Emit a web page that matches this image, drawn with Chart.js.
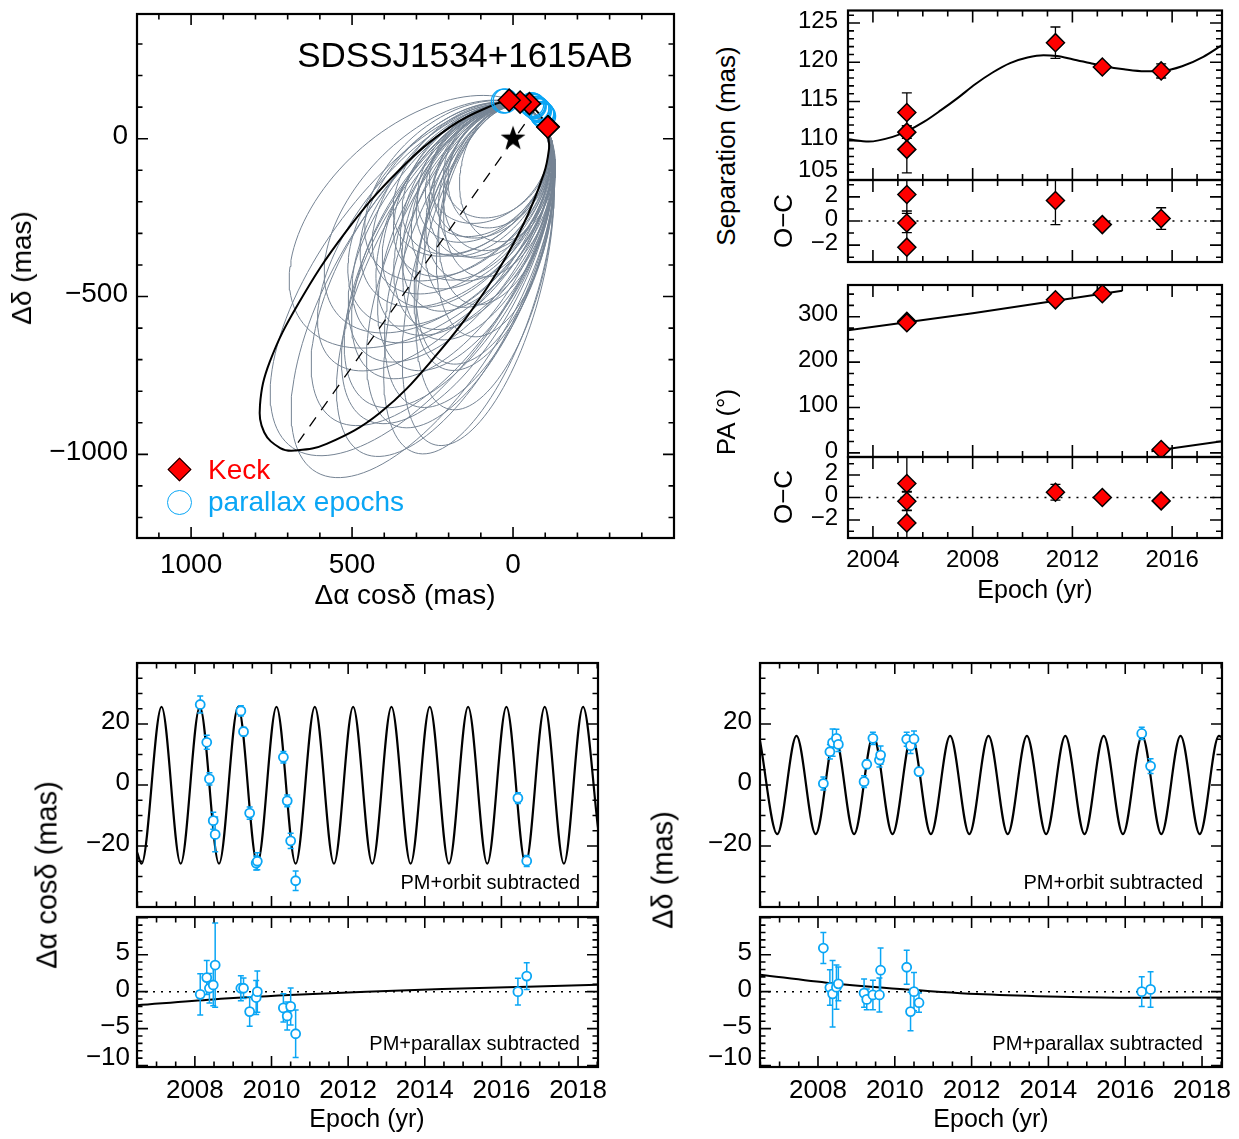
<!DOCTYPE html>
<html>
<head>
<meta charset="utf-8">
<title>SDSSJ1534+1615AB orbit</title>
<script src="https://cdn.jsdelivr.net/npm/chart.js@4.4.1/dist/chart.umd.min.js"></script>
<style>
html, body { margin:0; padding:0; background:#fff; }
body { width:1239px; height:1139px; position:relative; overflow:hidden; font-family:"Liberation Sans", Arial, Helvetica, sans-serif; }
canvas { position:absolute; }
.t { position:absolute; white-space:nowrap; line-height:1; color:#000; z-index:5; }
.mk { position:absolute; box-sizing:border-box; z-index:5; }
</style>
</head>
<body>
<script>
// ================= DATA =================
// --- Keck relative astrometry ---
const keckEpoch  = [2005.36, 2005.36, 2005.36, 2011.32, 2013.20, 2015.56];
const keckSep    = [113.6, 111.1, 108.9, 122.5, 119.4, 118.9];      // mas
const keckSepErr = [2.5, 0.8, 3.0, 2.0, 0.3, 0.9];
const keckSepOC  = [2.2, -0.17, -2.17, 1.7, -0.3, 0.2];
const keckPA     = [290.2, 288.6, 286.7, 337.3, 350.6, 7.5];        // deg
const keckPAErr  = [2.4, 0.8, 2.8, 0.7, 0.2, 0.3];
const keckPAOC   = [1.24, -0.33, -2.26, 0.47, 0.0, -0.3];
// Keck positions on the sky (mas)
const keckRA  = [-109, -109, -108, -51, -22, 12];
const keckDec = [38, 38, 37, 111, 116, 122];

// --- best-fit model curves (top right) ---
const sepModelEpoch = [2003.0, 2003.83, 2004.79, 2005.35, 2006.04, 2006.73, 2007.42, 2008.1, 2008.8, 2009.5, 2010.2, 2010.84, 2011.38, 2012.0, 2012.7, 2013.27, 2014.07, 2014.9, 2015.6, 2016.4, 2017.25, 2018.0];
const sepModel      = [110.2, 109.9, 110.5, 111.2, 112.4, 113.9, 115.5, 117.2, 118.7, 119.9, 120.6, 120.9, 120.8, 120.4, 119.9, 119.5, 119.1, 118.85, 118.9, 119.5, 120.7, 122.2];
const paModelEpochA = [2003.0, 2008.0, 2014.0];
const paModelA      = [270.3, 308.0, 357.3];
const paModelEpochB = [2015.17, 2018.0];
const paModelB      = [3.8, 25.8];

// --- orbit plot (mas) ---
const blackOrbitRA  = [52, 191, 357, 523, 667, 756, 786, 773, 723, 678, 579, 413, 247, 81, -30, -96, -112, -110, -105, -80, -47, -19, 15];
const blackOrbitDec = [111, 40, -103, -300, -523, -708, -844, -930, -980, -988, -967, -868, -696, -473, -276, -110, -30, 0, 36, 80, 111, 118, 119];
const apsidesRA  = [-72, 684];
const apsidesDec = [98, -986];
const plxOrbitRA  = [-95, -92, -91, -90, -89, -82, -80, -78, -75, -74, -66, -64, -62, -58, 24, 30];
const plxOrbitDec = [72, 75, 77, 79, 80, 88, 90, 92, 95, 96, 102, 104, 106, 108, 120, 119];
// posterior sample orbits: far apex (mas) and half width (mas)
const grayApexRA    = [610, 685, 465, 304, 242, 367, 556, 446, 308, 198, 641, 554, 447, 338, 209, 204, 532, 350, 255, 418, 133, 347, 272, 417, 182, 131, 320, 250, 188, 332, 116, 247, 192, 251, 127, 185, 57, 218, 127, 161, 386, 436, 286, 301, 289, 430, 150, 454, 453, 222];
const grayApexDec   = [-1057, -979, -997, -995, -970, -909, -890, -839, -846, -857, -598, -709, -688, -725, -731, -711, -570, -606, -630, -498, -626, -514, -535, -403, -529, -524, -410, -433, -442, -332, -435, -352, -362, -299, -348, -297, -325, -234, -272, -229, -460, -623, -458, -334, -593, -745, -371, -891, -560, -284];
const grayHalfWidth = [280, 290, 245, 215, 200, 225, 260, 240, 212, 188, 300, 240, 230, 216, 189, 187, 260, 220, 197, 230, 169, 200, 190, 220, 179, 165, 190, 180, 175, 190, 161, 170, 165, 170, 160, 160, 144, 160, 150, 150, 210, 230, 190, 180, 205, 230, 160, 240, 240, 165];
const grayNear = 105;

// --- parallax epochs (bottom panels) ---
const plxEpoch = [2008.14, 2008.31, 2008.38, 2008.48, 2008.53, 2009.20, 2009.27, 2009.43, 2009.60, 2009.63, 2010.31, 2010.41, 2010.50, 2010.63, 2016.43, 2016.66];
const raOrbitSub  = [26.4, 14.0, 2.0, -11.7, -16.2, 24.3, 17.5, -9.2, -25.6, -25.0, 9.1, -5.2, -18.3, -31.4, -4.3, -24.9];
const raPlxSub    = [-0.37, 1.9, 0.46, 0.9, 3.6, 0.46, 0.46, -2.7, -0.8, 0.0, -2.2, -3.3, -2.0, -5.7, 0.0, 2.1];
const raErr       = [2.8, 2.3, 2.0, 2.8, 5.7, 1.7, 1.4, 2.0, 2.3, 2.8, 1.9, 1.9, 2.5, 3.2, 1.8, 1.8];
const decOrbitSub = [0.5, 10.9, 13.9, 15.3, 13.3, 1.1, 6.8, 15.3, 8.2, 9.8, 15.0, 12.9, 15.1, 4.4, 16.9, 6.2];
const decPlxSub   = [5.9, 0.55, -0.3, 0.6, 1.05, -0.2, -1.05, -0.45, -0.45, 2.9, 3.3, -2.7, 0.0, -1.5, 0.0, 0.3];
const decErr      = [2.1, 2.4, 4.5, 3.0, 2.3, 1.9, 1.4, 2.0, 2.3, 3.0, 2.3, 2.6, 2.6, 1.3, 2.0, 2.4];
// parallax model curves: read extrema
const raParEpoch = [2006.49, 2006.61, 2007.13, 2007.63, 2008.13, 2008.63, 2009.13, 2009.63, 2010.13, 2010.63, 2011.13, 2011.63, 2012.13, 2012.63, 2013.13, 2013.63, 2014.13, 2014.63, 2015.13, 2015.63, 2016.13, 2016.63, 2017.13, 2017.63, 2018.13, 2018.52];
const raPar      = [-22.0, -25.8, 25.6, -25.8, 25.6, -25.8, 25.6, -25.8, 25.6, -25.8, 25.6, -25.8, 25.6, -25.8, 25.6, -25.8, 25.6, -25.8, 25.6, -25.8, 25.6, -25.8, 25.6, -25.8, 25.6, -14.0];
const decParEpoch = [2006.49, 2006.94, 2007.44, 2007.94, 2008.44, 2008.94, 2009.44, 2009.94, 2010.44, 2010.94, 2011.44, 2011.94, 2012.44, 2012.94, 2013.44, 2013.94, 2014.44, 2014.94, 2015.44, 2015.94, 2016.44, 2016.94, 2017.44, 2017.94, 2018.44, 2018.52];
const decPar      = [14.5, -16.1, 16.1, -16.1, 16.1, -16.1, 16.1, -16.1, 16.1, -16.1, 16.1, -16.1, 16.1, -16.1, 16.1, -16.1, 16.1, -16.1, 16.1, -16.1, 16.1, -16.1, 16.1, -16.1, 16.1, 15.6];
// orbital motion model (PM+parallax subtracted)
const raOrbModelEpoch  = [2006.49, 2008.47, 2010.47, 2012.47, 2014.46, 2016.45, 2018.52];
const raOrbModel       = [-1.83, -1.05, -0.46, 0.0, 0.35, 0.64, 0.92];
const decOrbModelEpoch = [2006.49, 2008.33, 2010.32, 2012.32, 2014.31, 2016.30, 2018.52];
const decOrbModel      = [2.3, 1.15, 0.3, -0.37, -0.7, -0.83, -0.78];

// --- tick labels ---
const orbitXTicks = [1000, 500, 0];
const orbitYTicks = [0, -500, -1000];
const epochTicksTop = [2004, 2008, 2012, 2016];
const sepTicks = [105, 110, 115, 120, 125];
const ocTicks = [-2, 0, 2];
const paTicks = [0, 100, 200, 300];
const epochTicksBottom = [2008, 2010, 2012, 2014, 2016, 2018];
const parTicks = [-20, 0, 20];
const resTicks = [-10, -5, 0, 5];

// ================= STYLE =================
const FONT = '"Liberation Sans", Arial, Helvetica, sans-serif';
const RED = '#ff0000', BLUE = '#0aa6f5', GRAY = 'rgb(118,132,148)';
Chart.defaults.font.family = FONT;
Chart.defaults.color = '#000';

const pts = (xs, ys) => xs.map((x, i) => ({x: x, y: ys[i]}));
const fmt = v => (v < 0 ? '\u2212' + Math.abs(v) : String(v));

// error bars drawn under each dataset's markers
const errorBarPlugin = {
  id: 'errbars',
  beforeDatasetDraw(chart, args) {
    const ds = chart.data.datasets[args.index];
    if (!ds.errors) return;
    const xs = chart.scales[args.meta.xAxisID], ys = chart.scales[args.meta.yAxisID];
    const ctx = chart.ctx, a = chart.chartArea;
    ctx.save();
    ctx.beginPath(); ctx.rect(a.left, a.top, a.right - a.left, a.bottom - a.top); ctx.clip();
    ctx.strokeStyle = ds.errorColor || '#000';
    ctx.lineWidth = ds.errorWidth || 1.3;
    const cap = ds.errorCap || 4;
    ds.data.forEach((p, i) => {
      const e = ds.errors[i];
      const x = xs.getPixelForValue(p.x);
      const y1 = ys.getPixelForValue(p.y - e), y2 = ys.getPixelForValue(p.y + e);
      ctx.beginPath();
      ctx.moveTo(x, y1); ctx.lineTo(x, y2);
      ctx.moveTo(x - cap, y1); ctx.lineTo(x + cap, y1);
      ctx.moveTo(x - cap, y2); ctx.lineTo(x + cap, y2);
      ctx.stroke();
    });
    ctx.restore();
  }
};

// IDL-style frame with inward major/minor ticks on all four sides
const framePlugin = {
  id: 'idlFrame',
  afterDatasetsDraw(chart, args, o) {
    const ctx = chart.ctx, a = chart.chartArea, sx = chart.scales.x, sy = chart.scales.y;
    ctx.save();
    ctx.strokeStyle = '#000';
    ctx.lineWidth = o.tickWidth || 1.6;
    const ticks = (scale, step, major, horiz) => {
      const lo = Math.min(scale.min, scale.max), hi = Math.max(scale.min, scale.max);
      for (let n = Math.ceil(lo / step - 1e-9); n * step <= hi + 1e-9; n++) {
        const v = n * step;
        const isMajor = Math.abs(v / major - Math.round(v / major)) < 1e-6;
        const len = isMajor ? o.majorLen : o.minorLen;
        const p = scale.getPixelForValue(v);
        ctx.beginPath();
        if (horiz) { ctx.moveTo(p, a.bottom); ctx.lineTo(p, a.bottom - len); ctx.moveTo(p, a.top); ctx.lineTo(p, a.top + len); }
        else { ctx.moveTo(a.left, p); ctx.lineTo(a.left + len, p); ctx.moveTo(a.right, p); ctx.lineTo(a.right - len, p); }
        ctx.stroke();
      }
    };
    ticks(sx, o.xMinor, o.xMajor, true);
    ticks(sy, o.yMinor, o.yMajor, false);
    ctx.lineWidth = o.frameWidth || 2.2;
    ctx.strokeRect(a.left, a.top, a.right - a.left, a.bottom - a.top);
    ctx.restore();
  }
};

function makePanel(cfg) {
  const f = cfg.frame, p = cfg.pad;
  const W = f.R - f.L + p.l + p.r, H = f.B - f.T + p.t + p.b;
  const c = document.createElement('canvas');
  c.width = W; c.height = H;
  c.style.left = (f.L - p.l) + 'px'; c.style.top = (f.T - p.t) + 'px';
  c.style.width = W + 'px'; c.style.height = H + 'px';
  document.body.appendChild(c);
  const axis = (a, isX, size) => ({
    type: 'linear', position: isX ? 'bottom' : 'left',
    min: a.min, max: a.max, reverse: !!a.reverse,
    grid: {display: false, drawTicks: false}, border: {display: false},
    ticks: {display: !!a.show, font: {size: a.font || 24, lineHeight: a.lh || 1}, padding: a.padding || 0,
            labelOffset: isX ? 0 : -2,
            color: '#000', autoSkip: false, maxRotation: 0, minRotation: 0,
            // a label sitting on the frame edge is lifted like in the original
            callback: v => (a.lift !== undefined && v === a.lift) ? [fmt(v), ''] : fmt(v)},
    afterBuildTicks: s => { s.ticks = a.labels.map(v => ({value: v})); },
    afterFit: s => { if (isX) s.height = size; else s.width = size;
                     s.paddingTop = 0; s.paddingBottom = 0; s.paddingLeft = 0; s.paddingRight = 0; }
  });
  return new Chart(c, {
    type: 'scatter',
    data: {datasets: cfg.datasets},
    options: {
      responsive: false, animation: false, devicePixelRatio: 1, events: [],
      layout: {padding: {left: 0, top: p.t, right: p.r, bottom: 0}},
      scales: {x: axis(cfg.x, true, p.b), y: axis(cfg.y, false, p.l)},
      plugins: {legend: {display: false}, tooltip: {enabled: false}, idlFrame: cfg.ticks}
    },
    plugins: [errorBarPlugin, framePlugin]
  });
}

function txt(s, x, y, size, opt) {
  opt = opt || {};
  const d = document.createElement('div');
  d.className = 't'; d.textContent = s;
  d.style.fontSize = size + 'px'; d.style.left = x + 'px'; d.style.top = y + 'px';
  if (opt.color) d.style.color = opt.color;
  let tf = opt.align === 'left' ? 'translate(0,-50%)' : opt.align === 'right' ? 'translate(-100%,-50%)' : 'translate(-50%,-50%)';
  if (opt.rot) tf = 'translate(-50%,-50%) rotate(-90deg)';
  d.style.transform = tf;
  document.body.appendChild(d);
}

// closed smooth curve: duplicate neighbours so the join is smooth, hide the helper segments
function closedCurve(xs, ys) {
  const a = pts(xs, ys);
  return [a[a.length - 1]].concat(a, [a[0], a[1]]);
}
// sample-orbit outline from its far apex, near distance and half width
function orbitOutline(ax, ay, w, q) {
  const L = Math.hypot(ax, ay), ux = ax / L, uy = ay / L;
  const px = -q * ux, py = -q * uy;
  const cx = (ax + px) / 2, cy = (ay + py) / 2, Ux = (ax - px) / 2, Uy = (ay - py) / 2;
  const Vx = -uy * w, Vy = ux * w, out = [];
  for (let k = 0; k <= 120; k++) {
    const t = 2 * Math.PI * k / 120;
    out.push({x: cx + Ux * Math.cos(t) + Vx * Math.sin(t), y: cy + Uy * Math.cos(t) + Vy * Math.sin(t)});
  }
  return out;
}
function starImage(r) {
  const c = document.createElement('canvas'), s = Math.ceil(2 * r + 2);
  c.width = c.height = s;
  const g = c.getContext('2d');
  g.fillStyle = '#000'; g.beginPath();
  for (let k = 0; k < 10; k++) {
    const rr = k % 2 ? r * 0.4 : r, ang = -Math.PI / 2 + k * Math.PI / 5;
    g.lineTo(s / 2 + rr * Math.cos(ang), s / 2 + rr * Math.sin(ang));
  }
  g.closePath(); g.fill();
  return c;
}
const lineDS = (data, extra) => Object.assign({data: data, showLine: true, pointRadius: 0, borderColor: '#000', borderWidth: 2, fill: false}, extra || {});

// ================= TOP LEFT: ORBIT =================
const blackData = closedCurve(blackOrbitRA, blackOrbitDec);
const nBlack = blackData.length;
const orbitSets = grayApexRA.map((ax, i) => lineDS(orbitOutline(ax, grayApexDec[i], grayHalfWidth[i], grayNear), {borderColor: GRAY, borderWidth: 1, order: 20}));
orbitSets.push(lineDS(blackData, {tension: 0.4, borderWidth: 2, order: 15,
  segment: {borderColor: c => (c.p0DataIndex === 0 || c.p0DataIndex === nBlack - 2) ? 'rgba(0,0,0,0)' : '#000'}}));
orbitSets.push(lineDS(pts(apsidesRA, apsidesDec), {borderWidth: 1.3, borderDash: [11, 9], order: 14}));
orbitSets.push({data: [{x: 0, y: 0}], pointStyle: starImage(13), pointRadius: 13, order: 13});
orbitSets.push({data: pts(plxOrbitRA, plxOrbitDec), pointStyle: 'circle', pointRadius: 12, borderWidth: 1.3, borderColor: BLUE, backgroundColor: 'rgba(0,0,0,0)', order: 12});
orbitSets.push({data: pts(keckRA, keckDec), pointStyle: 'rectRot', pointRadius: 11, borderWidth: 1.5, borderColor: '#000', backgroundColor: RED, order: 11});
makePanel({
  frame: {L: 137, T: 8, R: 674, B: 538}, pad: {l: 137, t: 8, r: 30, b: 60},
  x: {min: -500, max: 1168, reverse: true, labels: orbitXTicks, show: true, font: 28, padding: 13},
  y: {min: -1265, max: 395, labels: orbitYTicks, show: true, font: 28, padding: 9},
  ticks: {xMajor: 500, xMinor: 100, yMajor: 500, yMinor: 100, majorLen: 11, minorLen: 5.5},
  datasets: orbitSets
});

// ================= TOP RIGHT =================
const diamond = (xs, ys, errs, r) => ({data: pts(xs, ys), errors: errs, errorCap: 5, errorWidth: 1.3,
  pointStyle: 'rectRot', pointRadius: r || 9, borderWidth: 1.5, borderColor: '#000', backgroundColor: RED, order: 1});
const tickTop = (yMaj, yMin) => ({xMajor: 4, xMinor: 1, yMajor: yMaj, yMinor: yMin, majorLen: 12, minorLen: 6});
makePanel({
  frame: {L: 848, T: 9, R: 1222, B: 180}, pad: {l: 90, t: 9, r: 17, b: 30},
  x: {min: 2003, max: 2018, labels: epochTicksTop},
  y: {min: 105, max: 126.6, labels: sepTicks, show: true, font: 24, padding: 10, lift: 105, lh: 0.6},
  ticks: tickTop(5, 1),
  datasets: [lineDS(pts(sepModelEpoch, sepModel), {cubicInterpolationMode: 'monotone', order: 3}),
             diamond(keckEpoch, keckSep, keckSepErr)]
});
makePanel({
  frame: {L: 848, T: 180, R: 1222, B: 262}, pad: {l: 90, t: 30, r: 17, b: 20},
  x: {min: 2003, max: 2018, labels: epochTicksTop},
  y: {min: -3.4, max: 3.4, labels: ocTicks, show: true, font: 24, padding: 10},
  ticks: tickTop(2, 1),
  datasets: [lineDS([{x: 2003.5, y: 0}, {x: 2018, y: 0}], {borderWidth: 1.5, borderDash: [2, 6], order: 5}),
             diamond(keckEpoch, keckSepOC, keckSepErr)]
});
makePanel({
  frame: {L: 848, T: 285, R: 1222, B: 457}, pad: {l: 90, t: 30, r: 17, b: 20},
  x: {min: 2003, max: 2018, labels: epochTicksTop},
  y: {min: -9, max: 370, labels: paTicks, show: true, font: 24, padding: 10},
  ticks: tickTop(100, 25),
  datasets: [lineDS(pts(paModelEpochA, paModelA), {order: 3}),
             lineDS(pts(paModelEpochB, paModelB), {order: 3}),
             diamond(keckEpoch, keckPA, keckPAErr)]
});
makePanel({
  frame: {L: 848, T: 457, R: 1222, B: 538}, pad: {l: 90, t: 30, r: 17, b: 50},
  x: {min: 2003, max: 2018, labels: epochTicksTop, show: true, font: 24, padding: 10},
  y: {min: -3.6, max: 3.6, labels: ocTicks, show: true, font: 24, padding: 10},
  ticks: tickTop(2, 1),
  datasets: [lineDS([{x: 2003.5, y: 0}, {x: 2018, y: 0}], {borderWidth: 1.5, borderDash: [2, 6], order: 5}),
             diamond(keckEpoch, keckPAOC, keckPAErr)]
});

// ================= BOTTOM PANELS =================
const circles = (ys, errs) => ({data: pts(plxEpoch, ys), errors: errs, errorColor: BLUE, errorCap: 3, errorWidth: 1.5,
  pointStyle: 'circle', pointRadius: 4.5, borderWidth: 1.8, borderColor: BLUE, backgroundColor: '#fff', order: 1});
const tickBot = (yMaj, yMin) => ({xMajor: 2, xMinor: 0.5, yMajor: yMaj, yMinor: yMin, majorLen: 11, minorLen: 5.5});
const zeroLine = () => lineDS([{x: 2006.49, y: 0}, {x: 2018.52, y: 0}], {borderWidth: 1.5, borderDash: [2, 6], order: 5});
[[137, 598, raPar, raParEpoch, raOrbitSub, raPlxSub, raErr, raOrbModelEpoch, raOrbModel, 7],
 [760, 1222, decPar, decParEpoch, decOrbitSub, decPlxSub, decErr, decOrbModelEpoch, decOrbModel, 8]].forEach(P => {
  const [L, R, par, parEp, top, low, err, omE, om, lp] = P;
  makePanel({
    frame: {L: L, T: 663, R: R, B: 907}, pad: {l: 100, t: 30, r: 17, b: 20},
    x: {min: 2006.49, max: 2018.52, labels: epochTicksBottom},
    y: {min: -40, max: 40, labels: parTicks, show: true, font: 26, padding: lp},
    ticks: tickBot(20, 5),
    datasets: [lineDS(pts(parEp, par), {cubicInterpolationMode: 'monotone', borderWidth: 2.2, order: 3}), circles(top, err)]
  });
  makePanel({
    frame: {L: L, T: 917, R: R, B: 1067}, pad: {l: 100, t: 20, r: 17, b: 50},
    x: {min: 2006.49, max: 2018.52, labels: epochTicksBottom, show: true, font: 26, padding: 11},
    y: {min: -10.2, max: 10.1, labels: resTicks, show: true, font: 26, padding: lp, lift: -10, lh: 0.42},
    ticks: tickBot(5, 1),
    datasets: [zeroLine(), lineDS(pts(omE, om), {cubicInterpolationMode: 'monotone', borderWidth: 2, order: 3}), circles(low, err)]
  });
});

// ================= TEXT =================
txt('SDSSJ1534+1615AB', 465, 54, 35);
txt('Keck', 208, 470, 28, {align: 'left', color: RED});
txt('parallax epochs', 208, 502, 28, {align: 'left', color: BLUE});
txt('\u0394\u03b1 cos\u03b4 (mas)', 405, 595, 28);
txt('\u0394\u03b4 (mas)', 22, 268, 28, {rot: true});
txt('Separation (mas)', 726, 146, 26, {rot: true});
txt('O\u2212C', 783, 221, 26, {rot: true});
txt('PA (\u00b0)', 726, 422, 26, {rot: true});
txt('O\u2212C', 783, 497, 26, {rot: true});
txt('Epoch (yr)', 1035, 589, 25);
txt('\u0394\u03b1 cos\u03b4 (mas)', 47, 875, 29, {rot: true});
txt('\u0394\u03b4 (mas)', 663, 870, 29, {rot: true});
txt('Epoch (yr)', 367, 1118, 25);
txt('Epoch (yr)', 991, 1118, 25);
txt('PM+orbit subtracted', 580, 882, 20, {align: 'right'});
txt('PM+orbit subtracted', 1203, 882, 20, {align: 'right'});
txt('PM+parallax subtracted', 580, 1043, 20, {align: 'right'});
txt('PM+parallax subtracted', 1203, 1043, 20, {align: 'right'});
// legend symbols
(function () {
  const d = document.createElement('div'); d.className = 'mk';
  Object.assign(d.style, {left: (179.3 - 8.5) + 'px', top: (469.3 - 8.5) + 'px', width: '17px', height: '17px',
    background: RED, border: '1.5px solid #000', transform: 'rotate(45deg)'});
  document.body.appendChild(d);
  const c = document.createElement('div'); c.className = 'mk';
  Object.assign(c.style, {left: (179.3 - 12.5) + 'px', top: (502.3 - 12.5) + 'px', width: '25px', height: '25px',
    border: '1.4px solid ' + BLUE, borderRadius: '50%'});
  document.body.appendChild(c);
})();
</script>
</body>
</html>
